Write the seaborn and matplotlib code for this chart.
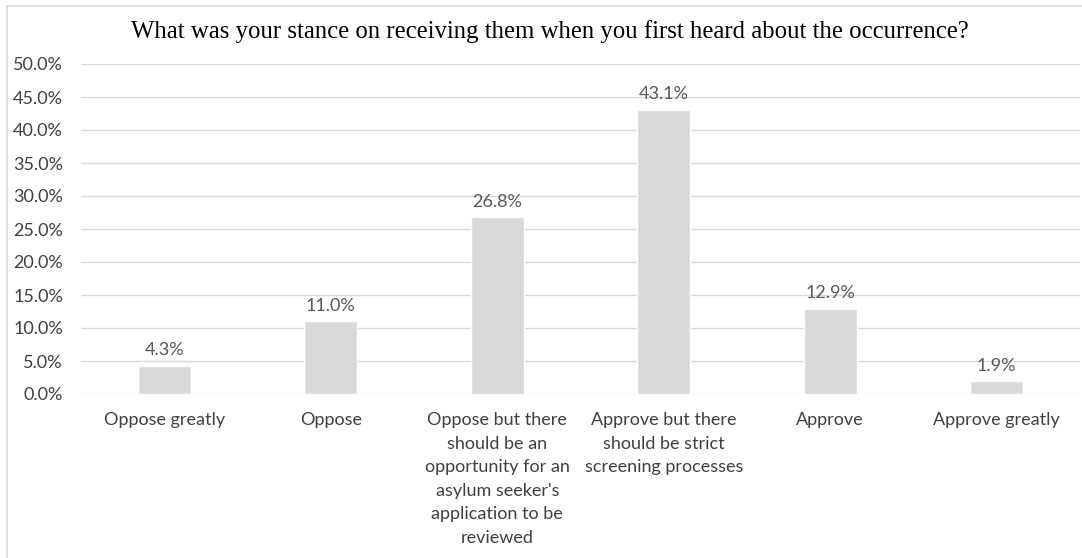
import matplotlib
matplotlib.use("Agg")
import matplotlib.pyplot as plt
from matplotlib.lines import Line2D
from matplotlib.ticker import FuncFormatter, MultipleLocator
import pandas as pd
import seaborn as sns

categories = [
    "Oppose greatly",
    "Oppose",
    "Oppose but there\nshould be an\nopportunity for an\nasylum seeker's\napplication to be\nreviewed",
    "Approve but there\nshould be strict\nscreening processes",
    "Approve",
    "Approve greatly",
]
shares = [4.3, 11.0, 26.8, 43.1, 12.9, 1.9]
title = "What was your stance on receiving them when you first heard about the occurrence?"

df = pd.DataFrame({"stance": categories, "share": [v / 100 for v in shares]})

sns.set_theme(style="white")
plt.rcParams["font.family"] = ["Lato", "DejaVu Sans"]

W, H = 1082, 558
fig = plt.figure(figsize=(W / 100, H / 100), dpi=100)
ax = fig.add_axes([81 / W, 1 - 394 / H, (1080 - 81) / W, (394 - 64) / H])

sns.barplot(data=df, x="stance", y="share", color="#d9d9d9", width=0.32,
            saturation=1, ax=ax, zorder=3)

ax.set_ylim(0, 0.5)
ax.set_xlim(-0.5, len(categories) - 0.5)
ax.yaxis.set_major_locator(MultipleLocator(0.05))
ax.yaxis.set_major_formatter(FuncFormatter(lambda v, _: f"{v * 100:.1f}%"))
ax.grid(axis="y", color="#d9d9d9", linewidth=1.0, zorder=0)
ax.set_axisbelow(True)
for s in ax.spines.values():
    s.set_visible(False)
ax.set_xlabel("")
ax.set_ylabel("")
ax.tick_params(axis="y", length=0, pad=13, labelsize=13, labelcolor="#404040")
ax.tick_params(axis="x", length=0, pad=13, labelsize=13, labelcolor="#404040")
for lbl in ax.get_xticklabels():
    lbl.set_linespacing(1.58)
    lbl.set_verticalalignment("top")

for i, v in enumerate(shares):
    ax.annotate(f"{v:.1f}%", (i, v / 100), xytext=(0, 7.5), textcoords="offset points",
                ha="center", va="baseline", fontsize=13, color="#595959")

fig.text(550 / W, 1 - 38 / H, title, ha="center", va="baseline",
         fontsize=17.8, family="Liberation Serif", color="#000000")

# chart area border
border = "#d9d9d9"
fig.add_artist(Line2D([7 / W, 1.0], [1 - 6 / H, 1 - 6 / H], color=border, linewidth=1.2))
fig.add_artist(Line2D([7 / W, 7 / W], [0.0, 1 - 6 / H], color=border, linewidth=1.2))

fig.savefig("out.png", dpi=100, facecolor="white")
